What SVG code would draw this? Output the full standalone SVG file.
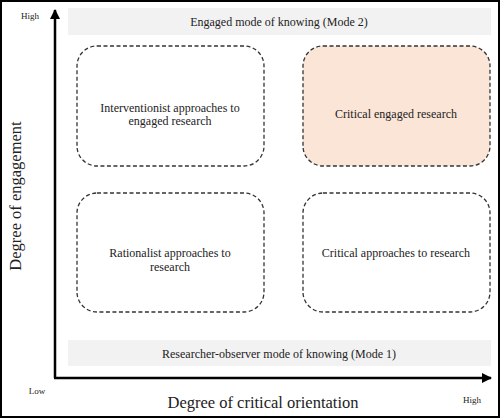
<svg xmlns="http://www.w3.org/2000/svg" width="500" height="418" viewBox="0 0 500 418" font-family="'Liberation Serif', 'Times New Roman', serif">
<style>
text{font-family:'Liberation Serif','DejaVu Serif',serif;fill:#222}
.box{fill:#fff;stroke:#333;stroke-width:1.3;stroke-dasharray:4,2.5}
.band{fill:#f2f2f2}
.lbl{font-size:12px;text-anchor:middle}
.ax{stroke:#000;stroke-width:2.5;fill:none}
</style>
<defs>
<marker id="ah" viewBox="0 0 10 10" refX="9" refY="5" markerWidth="4" markerHeight="4" orient="auto" markerUnits="strokeWidth">
<path d="M0,0L10,5L0,10z" fill="#000"/>
</marker>
</defs>
<rect x="1" y="1" width="498" height="416" fill="#fff" stroke="#000" stroke-width="2"/>
<g id="band-top"><rect class="band" x="68" y="8" width="423" height="27"/><text class="lbl" x="279" y="26">Engaged mode of knowing (Mode 2)</text></g>
<g id="band-bottom"><rect class="band" x="68" y="340" width="423" height="26"/><text class="lbl" x="279" y="358">Researcher-observer mode of knowing (Mode 1)</text></g>
<g id="n1"><rect class="box" x="77" y="46" width="187" height="120" rx="20"/><text class="lbl" x="170" y="112">Interventionist approaches to</text><text class="lbl" x="170" y="125">engaged research</text></g>
<g id="n2"><rect class="box" x="303" y="46" width="187" height="120" rx="20" style="fill:#fbe5d6"/><text class="lbl" x="396" y="118">Critical  engaged research</text></g>
<g id="n3"><rect class="box" x="77" y="193" width="187" height="119" rx="20"/><text class="lbl" x="170" y="257">Rationalist approaches to</text><text class="lbl" x="170" y="271">research</text></g>
<g id="n4"><rect class="box" x="303" y="193" width="187" height="119" rx="20"/><text class="lbl" x="396" y="257">Critical  approaches to research</text></g>
<g id="connectors">
<path class="ax" d="M55,378V10" marker-end="url(#ah)"/>
<path class="ax" d="M54,378H491" marker-end="url(#ah)"/>
</g>
<g id="axis-labels">
<text x="30" y="19" font-size="9" text-anchor="middle">High</text>
<text x="37" y="394" font-size="9" text-anchor="middle">Low</text>
<text x="472" y="403" font-size="9" text-anchor="middle">High</text>
<text x="263" y="408" font-size="16.5" text-anchor="middle">Degree of critical orientation</text>
<text transform="translate(21,196) rotate(-90)" font-size="16.5" text-anchor="middle">Degree of engagement</text>
</g>
</svg>
